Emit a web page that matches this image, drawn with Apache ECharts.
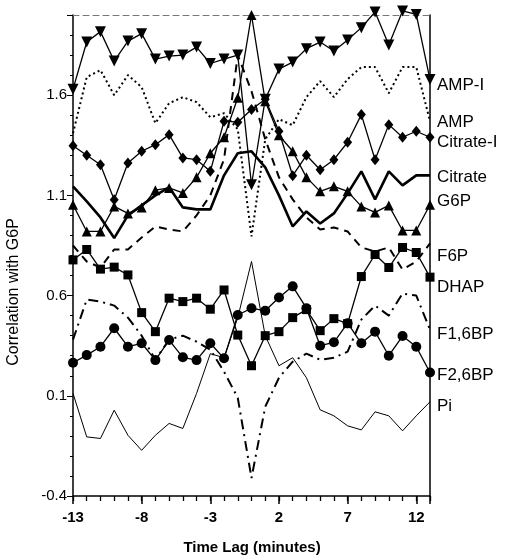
<!DOCTYPE html>
<html>
<head>
  <meta charset="utf-8">
  <title>Correlation with G6P</title>
  <script src="https://cdn.jsdelivr.net/npm/echarts@6/dist/echarts.min.js" charset="utf-8" type="text/javascript"></script>
<style>
  html, body { margin: 0; padding: 0; background: #fff; }
  #chart { width: 506px; height: 559px; }
</style>
</head>
<body>
<div id="chart"></div>
<script type="text/javascript">
    // time lag, minutes
    var lags = [-13,-12,-11,-10,-9,-8,-7,-6,-5,-4,-3,-2,-1,0,1,2,3,4,5,6,7,8,9,10,11,12,13];

    // offset correlation curves
    var ampI     = [1.63,1.865,1.917,1.77,1.87,1.907,1.78,1.795,1.80,1.84,1.758,1.78,1.80,1.153,1.58,1.73,1.765,1.832,1.865,1.82,1.875,1.937,2.015,1.85,2.02,2.003,1.678];
    var amp      = [1.41,1.69,1.725,1.60,1.70,1.64,1.46,1.56,1.59,1.565,1.49,1.51,1.43,0.895,1.38,1.48,1.45,1.59,1.67,1.59,1.68,1.74,1.74,1.61,1.74,1.74,1.47];
    var citrateI = [1.348,1.30,1.253,1.078,1.262,1.32,1.353,1.403,1.287,1.278,1.22,1.47,1.465,1.528,1.58,1.42,1.198,1.30,1.228,1.278,1.365,1.503,1.278,1.453,1.39,1.42,1.39];
    var citrate  = [1.145,1.07,0.99,0.887,1.00,1.05,1.10,1.14,1.04,1.03,1.03,1.20,1.31,1.32,1.24,1.10,0.945,1.02,0.96,1.01,1.11,1.22,1.08,1.22,1.15,1.20,1.20];
    var g6p      = [1.053,0.92,0.92,1.045,1.01,1.04,1.126,1.137,1.112,1.19,1.31,1.39,1.587,2.0,1.57,1.40,1.32,1.19,1.12,1.145,1.12,1.045,1.015,1.05,0.925,0.925,1.053];
    var f6p      = [0.85,0.77,0.74,0.83,0.83,0.89,0.945,0.93,0.92,1.0,1.10,1.28,1.80,1.62,1.38,1.19,1.08,0.99,0.93,0.94,0.92,0.84,0.82,0.84,0.73,0.77,0.86];
    var dhap     = [0.778,0.83,0.732,0.742,0.703,0.515,0.42,0.587,0.57,0.587,0.532,0.628,0.403,0.25,0.40,0.42,0.49,0.53,0.425,0.485,0.46,0.695,0.805,0.74,0.84,0.815,0.692];
    var f16bp    = [0.38,0.58,0.57,0.55,0.49,0.40,0.28,0.38,0.40,0.37,0.33,0.22,0.09,-0.31,0.045,0.19,0.27,0.31,0.28,0.29,0.32,0.48,0.55,0.50,0.61,0.60,0.43];
    var f26bp    = [0.265,0.303,0.345,0.437,0.345,0.362,0.278,0.378,0.292,0.278,0.362,0.287,0.503,0.537,0.524,0.59,0.646,0.537,0.35,0.367,0.462,0.362,0.42,0.30,0.398,0.345,0.216];
    var pi       = [0.112,-0.105,-0.113,0.028,-0.097,-0.172,-0.097,-0.038,-0.063,0.112,0.31,0.29,0.49,0.77,0.40,0.25,0.29,0.19,0.03,0.0,-0.05,-0.07,0.02,0.0,-0.075,0.0,0.07];

    // labels at the right edge, with the y (px) where each sits
    var names  = ['AMP-I','AMP','Citrate-I','Citrate','G6P','F6P','DHAP','F1,6BP','F2,6BP','Pi'];
    var labelY = [85,122,142,177,201,256,287,334,375,406];

    function pts(vals) {
        return vals.map(function (v, i) { return [lags[i], v]; });
    }

    function line(name, vals, opt) {
        var s = {
            name: name,
            type: 'line',
            data: pts(vals),
            clip: false,
            symbol: 'none',
            lineStyle: { color: '#000', width: 1.3 },
            itemStyle: { color: '#000' }
        };
        for (var k in opt) { s[k] = opt[k]; }
        return s;
    }

    var font = '"Liberation Sans", Arial, sans-serif';

    var chart = echarts.init(document.getElementById('chart'));
    var option = {
        animation: false,
        backgroundColor: '#fff',
        grid: { left: 73, right: 76, top: 15, bottom: 63 },
        xAxis: [{
            type: 'value', min: -13, max: 13, interval: 5, position: 'bottom',
            axisLine: { onZero: false, lineStyle: { color: '#000', width: 1.5 } },
            axisTick: { length: 8, lineStyle: { color: '#000', width: 1.5 } },
            axisLabel: {
                color: '#000', fontFamily: font, fontSize: 15, fontWeight: 'bold', margin: 14,
                formatter: function (v) { return v === 13 ? '' : String(v); }
            },
            splitLine: { show: false }
        }, {
            type: 'value', min: -13, max: 13, interval: 1, position: 'bottom',
            axisLine: { show: false, onZero: false },
            axisTick: { length: 5, lineStyle: { color: '#000', width: 1.3 } },
            axisLabel: { show: false },
            splitLine: { show: false }
        }, {
            type: 'value', min: -13, max: 13, position: 'top',
            axisLine: { onZero: false, lineStyle: { color: '#777', width: 1, type: [6, 4] } },
            axisTick: { show: false }, axisLabel: { show: false }, splitLine: { show: false }
        }],
        yAxis: [{
            type: 'value', min: -0.4, max: 2.0, interval: 0.5, position: 'left',
            axisLine: { show: true, onZero: false, lineStyle: { color: '#000', width: 1.5 } },
            axisTick: { show: true, length: 6, lineStyle: { color: '#000' } },
            axisLabel: {
                color: '#000', fontFamily: font, fontSize: 15, margin: 6,
                formatter: function (v) { return v > 1.9 ? '' : v.toFixed(1); }
            },
            splitLine: { show: false }
        }, {
            type: 'value', min: -0.4, max: 2.0, interval: 0.1, position: 'left',
            axisLine: { show: false, onZero: false },
            axisTick: { show: true, length: 3, lineStyle: { color: '#000' } },
            axisLabel: { show: false },
            splitLine: { show: false }
        }, {
            type: 'value', min: -0.4, max: 2.0, position: 'right',
            axisLine: { show: true, onZero: false, lineStyle: { color: '#000', width: 1.5 } },
            axisTick: { show: false }, axisLabel: { show: false }, splitLine: { show: false }
        }],
        series: [
            line('AMP-I', ampI, { symbol: 'triangle', symbolRotate: 180, symbolSize: 11 }),
            line('AMP', amp, { lineStyle: { color: '#000', width: 2, type: [2, 3] } }),
            line('Citrate-I', citrateI, { symbol: 'diamond', symbolSize: [9, 11] }),
            line('Citrate', citrate, { lineStyle: { color: '#000', width: 2.6 } }),
            line('G6P', g6p, { symbol: 'triangle', symbolSize: 10 }),
            line('F6P', f6p, { lineStyle: { color: '#000', width: 2, type: [8, 6] } }),
            line('DHAP', dhap, { symbol: 'rect', symbolSize: 9 }),
            line('F1,6BP', f16bp, { lineStyle: { color: '#000', width: 2, type: [10, 5, 2, 5] } }),
            line('F2,6BP', f26bp, { symbol: 'circle', symbolSize: 10 }),
            line('Pi', pi, { lineStyle: { color: '#000', width: 1 } })
        ],
        graphic: names.map(function (n, i) {
            return {
                type: 'text', x: 437, y: labelY[i],
                style: { text: n, fill: '#000', font: '17px ' + font, verticalAlign: 'middle' }
            };
        }).concat([{
            type: 'text', x: 252, y: 548,
            style: { text: 'Time Lag (minutes)', fill: '#000', font: 'bold 15px ' + font, align: 'center', verticalAlign: 'middle' }
        }, {
            type: 'text', x: 14, y: 292, rotation: Math.PI / 2,
            style: { text: 'Correlation with G6P', fill: '#000', font: '16px ' + font, align: 'center', verticalAlign: 'middle' }
        }])
    };
    chart.setOption(option);
</script>
</body>
</html>
